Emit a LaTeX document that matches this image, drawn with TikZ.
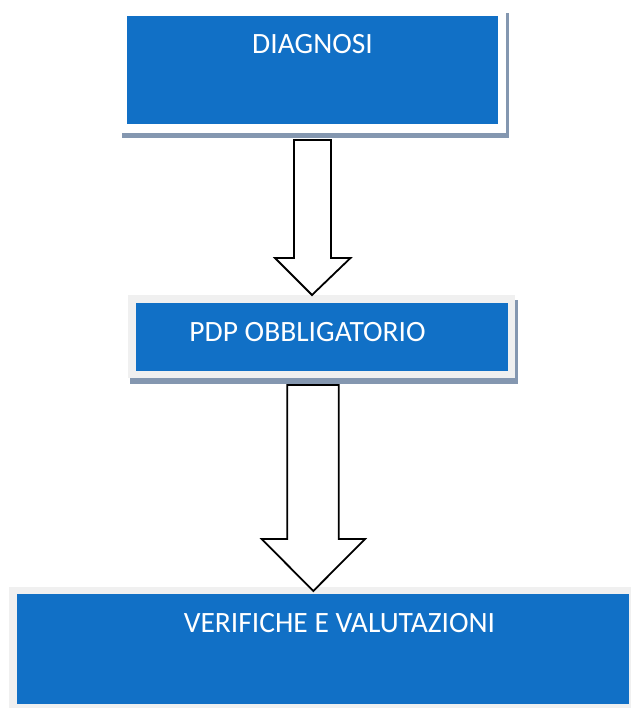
\documentclass[tikz,border=0pt]{standalone}
\usepackage{fontspec}
\setmainfont{Carlito}
\definecolor{boxblue}{HTML}{1170C6}
\definecolor{shadowgray}{HTML}{8497B0}
\definecolor{framegray}{HTML}{F0F0F0}
\begin{document}
\begin{tikzpicture}[x=1pt,y=-1pt,
  bluebox/.style={fill=boxblue,draw=none},
  shadowbox/.style={fill=shadowgray,draw=none},
  framebox/.style={fill=framegray,draw=none},
  label/.style={anchor=base,text=white,font=\fontsize{29.5}{34}\selectfont,inner sep=0pt},
  blockarrow/.style={draw=black,line width=1.8pt,fill=white,line join=miter}]
\useasboundingbox (0,0) rectangle (630,708);
% box 1
\fill[shadowbox] (121.7,13) rectangle (509,138);
\fill[white] (116,6) rectangle (506,132.7);
\fill[bluebox] (127.3,16) rectangle (498.3,124);
\node[label] (t1) at (312.5,54) {DIAGNOSI};
% box 2
\fill[shadowbox] (130,300) rectangle (518,384);
\fill[framebox] (128,295) rectangle (515,378);
\fill[bluebox] (136,302.7) rectangle (507.7,371);
\node[label] (t2) at (307.5,341) {PDP OBBLIGATORIO};
% box 3
\fill[framebox] (9,586.7) rectangle (632,710);
\fill[bluebox] (16.7,594.3) rectangle (629.3,704.3);
\node[label] (t3) at (339.5,632) {VERIFICHE E VALUTAZIONI};
% arrows
\draw[blockarrow] (294,140) -- (331,140) -- (331,258) -- (350.5,258) -- (312,295) -- (275,258) -- (294,258) -- cycle;
\draw[blockarrow] (287.3,385) -- (338.7,385) -- (338.7,539) -- (365,539) -- (313.3,591) -- (261.7,539) -- (287.3,539) -- cycle;
\end{tikzpicture}
\end{document}
